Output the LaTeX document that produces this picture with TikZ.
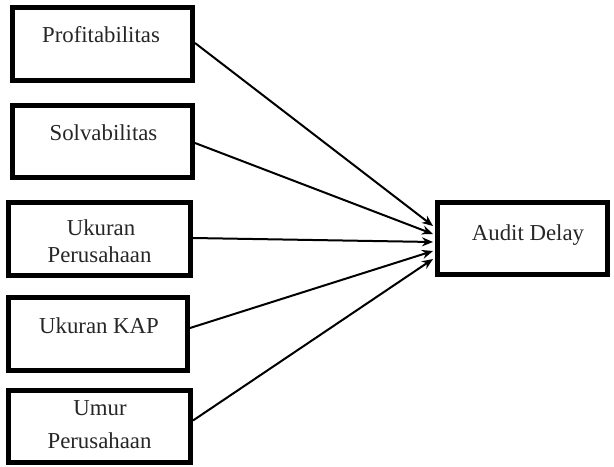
\documentclass[tikz,border=0pt]{standalone}
\usepackage{fontspec}
\setmainfont{Liberation Serif}
\usetikzlibrary{arrows.meta}
\begin{document}
\begin{tikzpicture}[x=0.5pt,y=-0.5pt,
  varbox/.style={draw=black,line width=2.5pt,rectangle,inner sep=0pt,fill=none},
  lbl/.style={anchor=base,inner sep=0pt,font=\fontsize{11.4pt}{13pt}\selectfont,text=black!85},
  link/.style={line width=1pt,-{Stealth[length=5.5pt,width=4.5pt]}}]
\useasboundingbox (0,0) rectangle (614,466);
% boxes
\node[varbox,minimum width=90pt,minimum height=36.5pt] (b1) at (102.5,44) {};
\node[varbox,minimum width=90pt,minimum height=36pt] (b2) at (102.5,141.5) {};
\node[varbox,minimum width=91pt,minimum height=36.5pt] (b3) at (99.5,239) {};
\node[varbox,minimum width=89.5pt,minimum height=36.5pt] (b4) at (98,334) {};
\node[varbox,minimum width=91pt,minimum height=36pt] (b5) at (99.5,426.5) {};
\node[varbox,minimum width=84.75pt,minimum height=35.75pt] (ad) at (522.25,238.25) {};
% labels
\node[lbl] (t1) at (101,42) {Profitabilitas};
\node[lbl] (t2) at (103.5,140) {Solvabilitas};
\node[lbl] (t3a) at (101,235) {Ukuran};
\node[lbl] (t3b) at (99.5,262) {Perusahaan};
\node[lbl] (t4) at (99,333) {Ukuran KAP};
\node[lbl] (t5a) at (100,415) {Umur};
\node[lbl] (t5b) at (99.5,448) {Perusahaan};
\node[lbl] (t6) at (528,240) {Audit Delay};
% arrow ends
\coordinate (e1) at (433,226);
\coordinate (e2) at (433,234);
\coordinate (e3) at (433,242);
\coordinate (e4) at (433,251);
\coordinate (e5) at (433,259);
\draw[link] (b1.east) ++(0,-1) -- (e1);
\draw[link] (b2.east) ++(0,1.5) -- (e2);
\draw[link] (b3.east) ++(0,-1) -- (e3);
\draw[link] (b4.east) ++(0,-6) -- (e4);
\draw[link] (b5.east) ++(0,-6) -- (e5);
\end{tikzpicture}
\end{document}
